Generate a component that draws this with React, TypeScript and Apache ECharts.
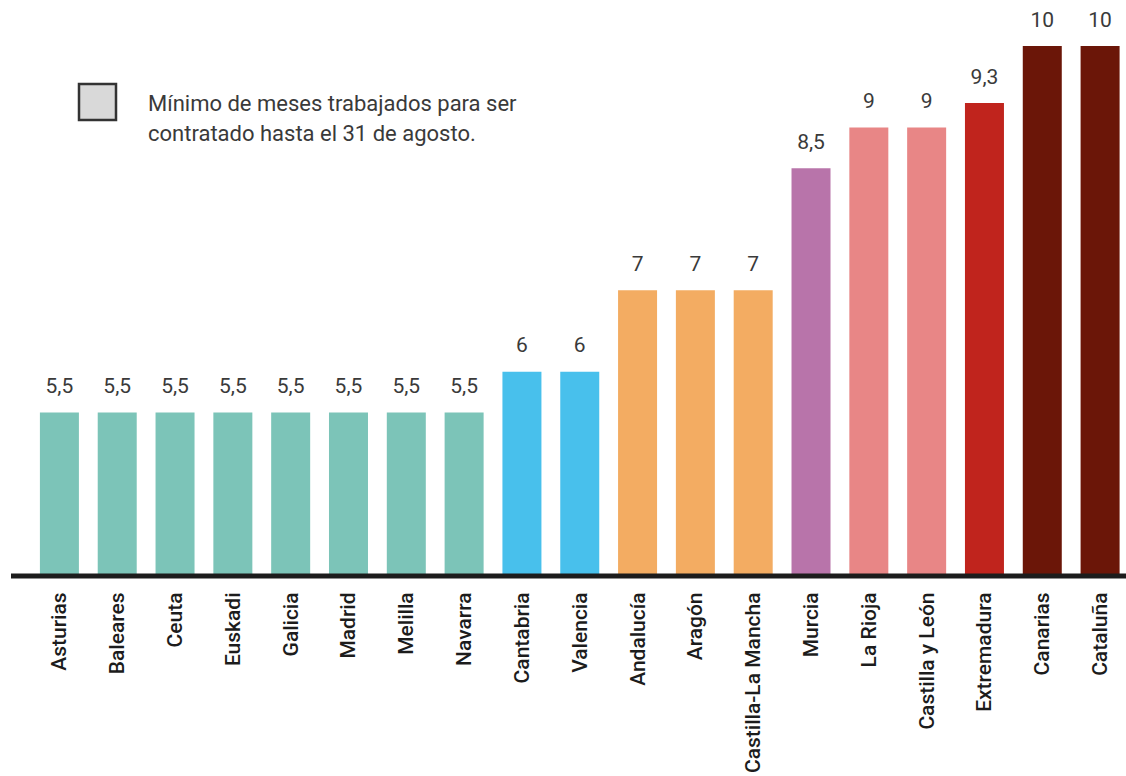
import React, { useEffect, useRef } from "react";
import * as echarts from "echarts";

const categories = [
  "Asturias", "Baleares", "Ceuta", "Euskadi", "Galicia", "Madrid", "Melilla", "Navarra",
  "Cantabria", "Valencia", "Andalucía", "Aragón", "Castilla-La Mancha", "Murcia",
  "La Rioja", "Castilla y León", "Extremadura", "Canarias", "Cataluña",
];
const values = [5.5, 5.5, 5.5, 5.5, 5.5, 5.5, 5.5, 5.5, 6, 6, 7, 7, 7, 8.5, 9, 9, 9.3, 10, 10];
const barColors = [
  "#7cc4b8", "#7cc4b8", "#7cc4b8", "#7cc4b8", "#7cc4b8", "#7cc4b8", "#7cc4b8", "#7cc4b8",
  "#48c0ec", "#48c0ec", "#f3ac62", "#f3ac62", "#f3ac62", "#b874aa",
  "#e88686", "#e88686", "#c0241d", "#6b1608", "#6b1608",
];
const legendLines = ["Mínimo de meses trabajados para ser", "contratado hasta el 31 de agosto."];

const FONT = "Roboto, 'Liberation Sans', sans-serif";

export default function App() {
  const ref = useRef<HTMLDivElement>(null);
  useEffect(() => {
    if (!ref.current) return;
    const chart = echarts.init(ref.current, undefined, { renderer: "svg" });
    chart.setOption({
      animation: false,
      backgroundColor: "#ffffff",
      grid: { left: 30.5, width: 1098.5, top: 46, bottom: 200 },
      xAxis: {
        type: "category",
        data: categories,
        axisLine: { show: false },
        axisTick: { show: false },
        axisLabel: {
          rotate: 90,
          margin: 17,
          interval: 0,
          color: "#1c1c1c",
          fontSize: 21,
          fontWeight: 500,
          fontFamily: FONT,
        },
      },
      yAxis: {
        type: "value",
        min: 3.5,
        max: 10,
        show: false,
        splitLine: { show: false },
      },
      series: [
        {
          type: "bar",
          name: legendLines.join(" "),
          barWidth: 39,
          data: values.map((v, i) => ({ value: v, itemStyle: { color: barColors[i] } })),
          label: {
            show: true,
            position: "top",
            distance: 16,
            color: "#3a3a3a",
            fontSize: 21,
            fontFamily: FONT,
            formatter: (p: any) => String(p.value).replace(".", ","),
          },
        },
      ],
      graphic: [
        {
          type: "line",
          shape: { x1: 11, y1: 576, x2: 1126, y2: 576 },
          style: { stroke: "#1c1c1c", lineWidth: 5 },
          z: 100,
        },
        {
          type: "rect",
          shape: { x: 79, y: 84, width: 37, height: 36 },
          style: { fill: "#d9d9d9", stroke: "#333333", lineWidth: 2.5 },
        },
        {
          type: "text",
          x: 148,
          y: 103,
          style: {
            text: legendLines[0],
            fill: "#3a3a3a",
            fontSize: 22,
            fontFamily: FONT,
            verticalAlign: "middle",
          },
        },
        {
          type: "text",
          x: 148,
          y: 133,
          style: {
            text: legendLines[1],
            fill: "#3a3a3a",
            fontSize: 22,
            fontFamily: FONT,
            verticalAlign: "middle",
          },
        },
      ],
    });
    return () => chart.dispose();
  }, []);
  return (
    <div
      style={{
        position: "absolute",
        left: 0,
        top: 0,
        width: 1126,
        height: 776,
        overflow: "hidden",
        background: "#ffffff",
      }}
    >
      <div ref={ref} style={{ width: 1136, height: 776 }} />
    </div>
  );
}
